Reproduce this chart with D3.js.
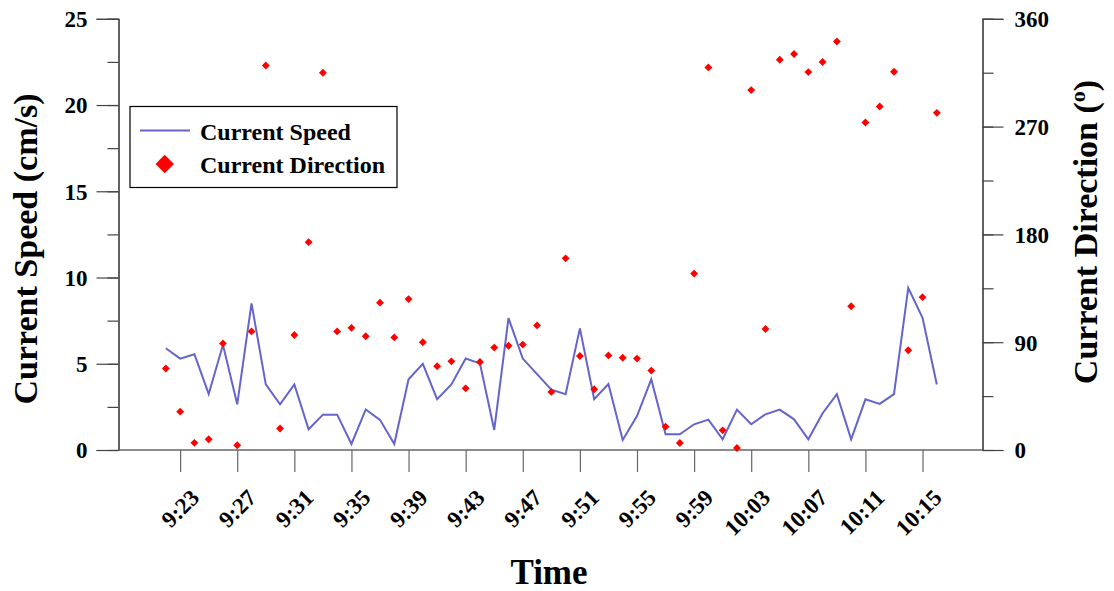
<!DOCTYPE html>
<html>
<head>
<meta charset="utf-8">
<script src="https://cdn.jsdelivr.net/npm/d3@7"></script>
<style>
  html, body { margin: 0; padding: 0; background: #fff; }
  svg { display: block; font-family: "Liberation Serif", "Times New Roman", serif; font-weight: bold; }
</style>
</head>
<body>
<svg id="chart" width="1114" height="591"></svg>
<script>
// One reading per minute, 9:22 through 10:16
const startTime = "9:22";
const currentSpeed = [
  5.9, 5.3, 5.55, 3.25, 6.1, 2.65, 8.5, 3.8, 2.65, 3.8,
  1.2, 2.05, 2.05, 0.35, 2.35, 1.75, 0.35, 4.1, 5.0, 2.95,
  3.8, 5.3, 5.02, 1.16, 7.65, 5.3, 4.4, 3.5, 3.24, 7.05,
  2.95, 3.82, 0.58, 1.97, 4.1, 0.91, 0.91, 1.49, 1.76, 0.62,
  2.34, 1.49, 2.07, 2.34, 1.78, 0.62, 2.13, 3.24, 0.62, 2.94,
  2.67, 3.24, 9.4, 7.67, 3.8
];
const currentDirection = [
  68, 32, 6, 9, 89, 4, 99, 321, 18, 96,
  173.5, 315, 99, 102, 95, 123, 94, 126, 90, 70,
  74, 51.5, 73.5, 85.5, 87, 88, 104, 48.5, 160, 78.5,
  50.7, 79, 77, 76.3, 66.3, 19.5, 5.8, 147.3, 319.4, 16.4,
  1.7, 300.5, 101, 325.8, 330.6, 315.5, 323.9, 341, 120, 273.4,
  286.8, 315.8, 83.3, 127.6, 281.5
];
const timeTickLabels = ["9:23", "9:27", "9:31", "9:35", "9:39", "9:43", "9:47",
                        "9:51", "9:55", "9:59", "10:03", "10:07", "10:11", "10:15"];
const speedTicks = [0, 5, 10, 15, 20, 25];
const directionTicks = [0, 90, 180, 270, 360];

const parseHM = s => { const [h, m] = s.split(":").map(Number); return new Date(2000, 0, 1, h, m, 0); };
const t0 = parseHM(startTime);
const records = currentSpeed.map((v, i) => ({
  time: d3.timeMinute.offset(t0, i), speed: v, dir: currentDirection[i]
}));

const svg = d3.select("#chart");
const plotLeft = 118.5, plotRight = 982.5, plotTop = 18.8, plotBottom = 450;

const x = d3.scaleTime()
  .domain([new Date(2000, 0, 1, 9, 18, 41), new Date(2000, 0, 1, 10, 19, 12)])
  .range([plotLeft, plotRight]);
const ySpeed = d3.scaleLinear().domain([0, 25]).range([plotBottom, plotTop]);
const yDir = d3.scaleLinear().domain([0, 360]).range([plotBottom, plotTop]);

const axisColor = "#444";
const tickFont = "23px";

function styleAxis(g) {
  g.select(".domain").attr("stroke", axisColor).attr("stroke-width", 1.2);
  g.selectAll(".tick line").attr("stroke", axisColor).attr("stroke-width", 1.2);
  g.selectAll("text").attr("fill", "#000").style("font-size", tickFont)
    .style("font-family", "Liberation Serif").style("font-weight", "bold").attr("dy", "0.34em");
}

// Left axis (speed) with minor ticks every 2.5
const gL = svg.append("g").attr("transform", `translate(${plotLeft},0)`);
gL.call(d3.axisLeft(ySpeed).tickValues(d3.range(0, 25.01, 2.5)).tickSize(11).tickFormat(""));
const gL2 = svg.append("g").attr("transform", `translate(${plotLeft},0)`);
gL2.call(d3.axisLeft(ySpeed).tickValues(speedTicks).tickSize(22).tickPadding(9).tickFormat(d3.format("d")));
styleAxis(gL); styleAxis(gL2);

// Right axis (direction) with minor ticks every 45
const gR = svg.append("g").attr("transform", `translate(${plotRight},0)`);
gR.call(d3.axisRight(yDir).tickValues(d3.range(0, 361, 45)).tickSize(11).tickFormat(""));
const gR2 = svg.append("g").attr("transform", `translate(${plotRight},0)`);
gR2.call(d3.axisRight(yDir).tickValues(directionTicks).tickSize(21).tickPadding(11).tickFormat(d3.format("d")));
styleAxis(gR); styleAxis(gR2);

// Bottom time axis
const gB = svg.append("g").attr("transform", `translate(0,${plotBottom})`);
gB.call(d3.axisBottom(x).tickValues(timeTickLabels.map(parseHM)).tickSize(22)
  .tickFormat(d => d3.timeFormat("%-H:%M")(d)));
gB.select(".domain").attr("stroke", "#666").attr("stroke-width", 1.5).attr("d", `M${plotLeft},0H${plotRight}`);
gB.selectAll(".tick line").attr("stroke", "#666").attr("stroke-width", 1.2);
gB.selectAll(".tick text")
  .attr("fill", "#000").style("font-size", tickFont)
  .style("font-family", "Liberation Serif").style("font-weight", "bold")
  .attr("text-anchor", "end").attr("dy", null).attr("y", null)
  .attr("transform", "translate(20,49) rotate(-45)");

// Speed line
svg.append("path")
  .datum(records)
  .attr("fill", "none")
  .attr("stroke", "#6464cc")
  .attr("stroke-width", 2)
  .attr("d", d3.line().x(d => x(d.time)).y(d => ySpeed(d.speed)));

// Direction diamonds
const diamond = d3.symbol().type(d3.symbolSquare).size(31);
svg.append("g").selectAll("path")
  .data(records)
  .join("path")
  .attr("d", diamond)
  .attr("fill", "#ff0000")
  .attr("transform", d => `translate(${x(d.time)},${yDir(d.dir)}) rotate(45)`);

// Axis titles
svg.append("text")
  .attr("transform", "translate(37,249) rotate(-90)")
  .attr("text-anchor", "middle")
  .style("font-size", "34px")
  .text("Current Speed (cm/s)");

const rt = svg.append("text")
  .attr("transform", "translate(1097,232) rotate(-90)")
  .attr("text-anchor", "middle")
  .style("font-size", "34px");
rt.append("tspan").text("Current Direction (");
rt.append("tspan").text("o").style("font-size", "22px").attr("dy", "-12");
rt.append("tspan").text(")").attr("dy", "12");

svg.append("text")
  .attr("x", 549).attr("y", 584)
  .attr("text-anchor", "middle")
  .style("font-size", "35px")
  .text("Time");

// Legend
const lg = svg.append("g");
lg.append("rect").attr("x", 130).attr("y", 106.5).attr("width", 267).attr("height", 81)
  .attr("fill", "#fff").attr("stroke", "#000").attr("stroke-width", 1.2);
lg.append("line").attr("x1", 140).attr("x2", 190).attr("y1", 130.5).attr("y2", 130.5)
  .attr("stroke", "#6464cc").attr("stroke-width", 2);
lg.append("path").attr("d", d3.symbol().type(d3.symbolSquare).size(170))
  .attr("fill", "#ff0000").attr("transform", "translate(164.7,164) rotate(45)");
lg.append("text").attr("x", 200).attr("y", 140).style("font-size", "24px").text("Current Speed");
lg.append("text").attr("x", 200).attr("y", 172.5).style("font-size", "24px").text("Current Direction");
</script>
</body>
</html>
